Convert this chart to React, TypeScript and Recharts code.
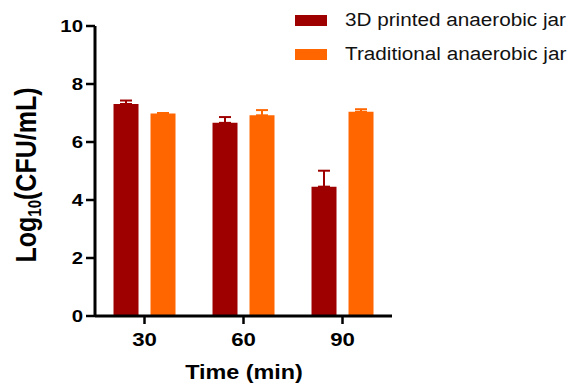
import { Bar, BarChart, ErrorBar, XAxis, YAxis } from "recharts";

const times = ["30", "60", "90"];
const printedJar = [7.31, 6.66, 4.46];
const printedJarSem = [0.12, 0.2, 0.55];
const traditionalJar = [6.98, 6.92, 7.04];
const traditionalJarSem = [0.02, 0.18, 0.09];
const yTicks = [0, 2, 4, 6, 8, 10];

const DARK = "#9E0000";
const ORANGE = "#FF6600";
const FONT = "Arial, 'Liberation Sans', sans-serif";
// the reference is stretched a little horizontally
const SX = 1.2;

const data = times.map((t, i) => ({
  time: t,
  printed: printedJar[i],
  printedErr: [0, printedJarSem[i]],
  traditional: traditionalJar[i],
  traditionalErr: [0, traditionalJarSem[i]],
}));

function LegendBox() {
  const items = [
    { label: "3D printed anaerobic jar", color: DARK },
    { label: "Traditional anaerobic jar", color: ORANGE },
  ];
  return (
    <div style={{ position: "absolute", left: 295, top: 3, fontFamily: FONT }}>
      {items.map((item) => (
        <div key={item.label} style={{ display: "flex", alignItems: "center", height: 34 }}>
          <span style={{ width: 32, height: 11, background: item.color, display: "inline-block", marginRight: 18 }} />
          <span
            style={{
              fontSize: 18,
              color: "#111",
              whiteSpace: "nowrap",
              transform: `scaleX(${1.15})`,
              transformOrigin: "left center",
            }}
          >
            {item.label}
          </span>
        </div>
      ))}
    </div>
  );
}

function XTick({ x, y, payload }: any) {
  return (
    <text
      transform={`translate(${x},${y + 13}) scale(${SX},1)`}
      textAnchor="middle"
      dominantBaseline="central"
      fontFamily={FONT}
      fontWeight="bold"
      fontSize={18.5}
      fill="#000"
    >
      {payload.value}
    </text>
  );
}

function YTick({ x, y, payload }: any) {
  return (
    <text
      transform={`translate(${x},${y}) scale(${SX},1)`}
      textAnchor="end"
      dominantBaseline="central"
      fontFamily={FONT}
      fontWeight="bold"
      fontSize={17}
      fill="#000"
    >
      {payload.value}
    </text>
  );
}

function XTitle() {
  return (
    <text
      transform={`translate(244,379) scale(${SX},1)`}
      textAnchor="middle"
      fontFamily={FONT}
      fontWeight="bold"
      fontSize={19.5}
      fill="#000"
    >
      Time (min)
    </text>
  );
}

function YTitle() {
  return (
    <text
      transform={`translate(36,175) scale(${SX},1) rotate(-90)`}
      textAnchor="middle"
      fontFamily={FONT}
      fontWeight="bold"
      fontSize={25}
      fill="#000"
    >
      Log<tspan fontSize={15} dy={4}>10</tspan>
      <tspan dy={-4}>(CFU/mL)</tspan>
    </text>
  );
}

export default function App() {
  return (
    <div style={{ position: "absolute", left: 0, top: 0, width: 574, height: 387, background: "#fff" }}>
      <BarChart
        width={574}
        height={387}
        data={data}
        margin={{ top: 26, right: 182, bottom: 21, left: 35 }}
        barCategoryGap="18.7%"
        barGap={12}
      >
        <XAxis
          dataKey="time"
          axisLine={{ stroke: "#000", strokeWidth: 3 }}
          tickLine={{ stroke: "#000", strokeWidth: 2.5 }}
          tickSize={8}
          tickMargin={3}
          height={50}
          tick={<XTick />}
          label={<XTitle />}
        />
        <YAxis
          domain={[0, 10]}
          ticks={yTicks}
          width={60}
          axisLine={{ stroke: "#000", strokeWidth: 3 }}
          tickLine={{ stroke: "#000", strokeWidth: 2.5 }}
          tickSize={9}
          tickMargin={3}
          tick={<YTick />}
          label={<YTitle />}
        />
        <Bar dataKey="printed" name="3D printed anaerobic jar" fill={DARK} isAnimationActive={false}>
          <ErrorBar dataKey="printedErr" width={6} stroke={DARK} strokeWidth={2} />
        </Bar>
        <Bar dataKey="traditional" name="Traditional anaerobic jar" fill={ORANGE} isAnimationActive={false}>
          <ErrorBar dataKey="traditionalErr" width={6} stroke={ORANGE} strokeWidth={2} />
        </Bar>
      </BarChart>
      <LegendBox />
    </div>
  );
}
